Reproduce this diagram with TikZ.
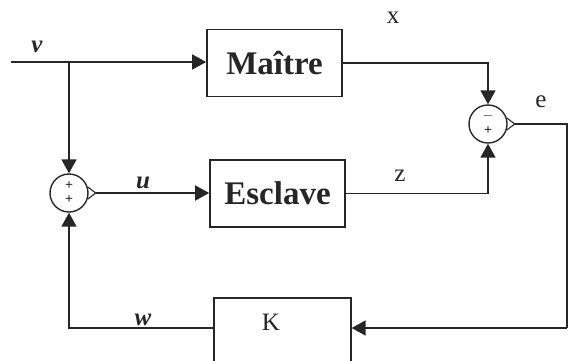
\documentclass[tikz,border=0pt]{standalone}
\usepackage{fontspec}
\setmainfont{Liberation Serif}
\usetikzlibrary{arrows.meta,calc,positioning}

\begin{document}
\begin{tikzpicture}[x=1pt, y=-1pt, line width=1.6pt, color=black!85,
    block/.style={draw, rectangle, minimum width=135pt, minimum height=67pt,
      inner sep=0pt, font=\fontsize{33}{33}\selectfont\bfseries},
    sumcirc/.style={draw, circle, minimum size=38pt, inner sep=0pt, line width=1.4pt},
    sign/.style={font=\fontsize{14}{14}\selectfont\bfseries, inner sep=0pt},
    sig/.style={font=\fontsize{25}{25}\selectfont\bfseries\itshape, inner sep=0pt},
    lbl/.style={font=\fontsize{25}{25}\selectfont, inner sep=0pt},
    >={Triangle[length=14pt,width=15pt]}]
  \useasboundingbox (0,0) rectangle (569,360);

  % blocs
  \node[block] (maitre) at (274.5,63) {Maître};
  \node[block] (esclave) at (277.5,193.5) {Esclave};
  \node[block, minimum width=137pt, minimum height=110pt, anchor=north west] (gain) at (213,297) {};
  \node[lbl] (glbl) at (271,322) {K};

  % sommateurs
  \node[sumcirc] (sumu) at (69,193) {};
  \node[sumcirc] (sume) at (488,124) {};
  \node[sign] (su1) at ($(sumu)+(0,-7)$) {+};
  \node[sign] (su2) at ($(sumu)+(0,7)$) {+};
  \node[sign] (se1) at ($(sume)+(0,-8)$) {$-$};
  \node[sign] (se2) at ($(sume)+(0,7)$) {+};
  \draw[line width=1.1pt] (sumu.18) -- ($(sumu.east)+(7,0)$) -- (sumu.-18);
  \draw[line width=1.1pt] (sume.18) -- ($(sume.east)+(7,0)$) -- (sume.-18);

  \coordinate (vin) at (11,62);
  \coordinate (vbr) at (69,62);
  \coordinate (eout) at (567,124);
  \coordinate (kin) at (567,328);

  % liaisons
  \draw[->] (vin) -- (maitre.west |- vin);
  \draw[->] (vbr) -- (sumu.north);
  \draw[->] ($(sumu.east)+(7,0)$) -- (esclave.west |- sumu);
  \draw[->] (maitre.east) -| (sume.north);
  \draw[->] (esclave.east) -| (sume.south);
  \draw ($(sume.east)+(7,0)$) -- (eout) -- (kin);
  \draw[->] (kin) -- (gain.east |- kin);
  \draw[->] (gain.west |- kin) -| (sumu.south);

  % signaux
  \node[sig] (lv) at (37,47) {v};
  \node[sig] (lu) at (143,183) {u};
  \node[sig] (lw) at (143,320) {w};
  \node[lbl] (lx) at (393,18) {x};
  \node[lbl] (lz) at (400,176) {z};
  \node[lbl] (le) at (541,102) {e};
\end{tikzpicture}
\end{document}
